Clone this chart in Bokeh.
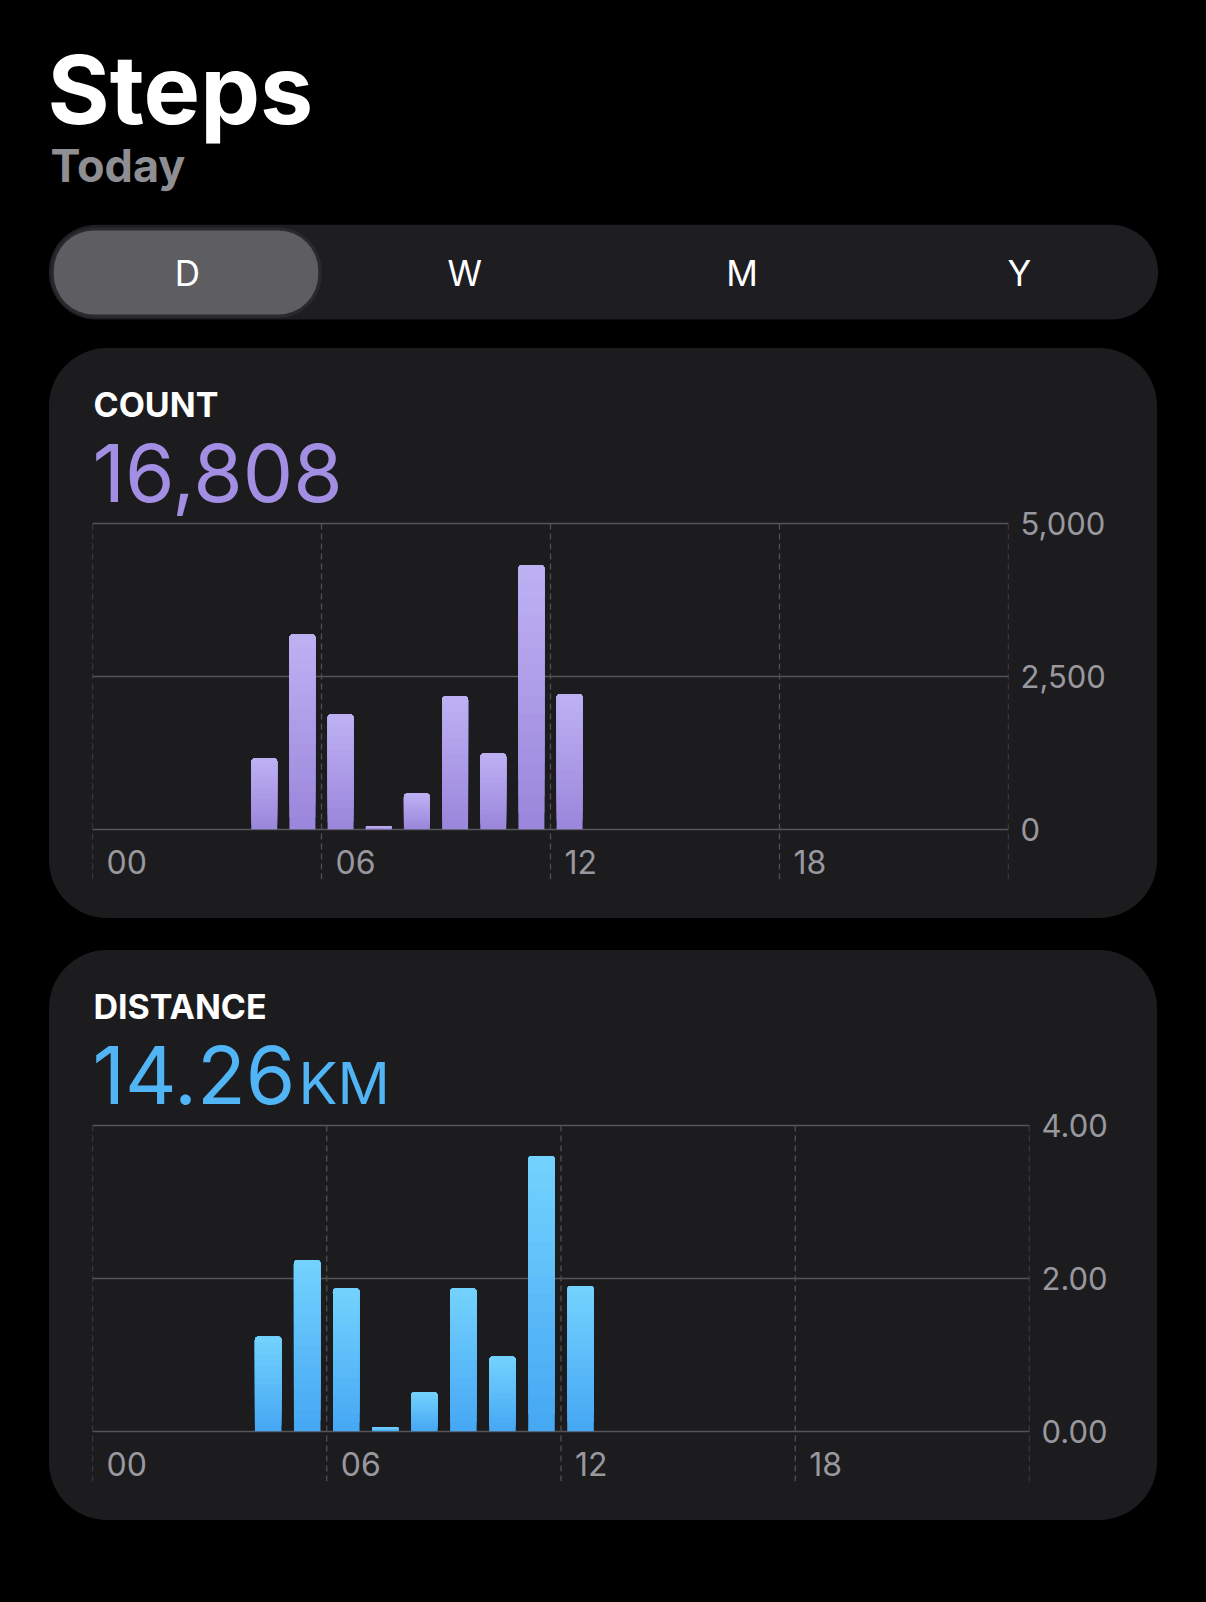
from bokeh.plotting import figure
from bokeh.models import Range1d, FixedTicker, NumeralTickFormatter, GlobalInlineStyleSheet
from bokeh.layouts import column
from bokeh.core.properties import value
from bokeh.embed import file_html
from bokeh.resources import INLINE

# ---------------- data ----------------
title_text = "Steps"
subtitle_text = "Today"
periods = ["D", "W", "M", "Y"]
selected_period = "D"

bar_hours = [4, 5, 6, 7, 8, 9, 10, 11, 12]
step_counts = [1160, 3190, 1880, 45, 585, 2175, 1240, 4320, 2213]
distance_km = [1.24, 2.24, 1.87, 0.05, 0.51, 1.87, 0.98, 3.60, 1.90]

hour_ticks = [0, 6, 12, 18, 24]
hour_labels = ["00", "06", "12", "18"]
count_ticks = [0, 2500, 5000]
distance_ticks = [0, 2, 4]

# ---------------- styles / layout ----------------
FONT = "Inter"
MID = 0.3635            # cap-centre above baseline, in em (Inter)
BG = "#000000"
CARD = "#1C1C1E"
GRID = "#55555A"
DASH = "#505054"
MUTED = "#98989E"
PURPLE = "#A28FE3"
PURPLE_TOP, PURPLE_BOT = "#BDB0F2", "#9B87DC"
BLUE = "#50B4F5"
BLUE_TOP, BLUE_BOT = "#72D1FD", "#47A8F4"

PAGE_W = 1206
HEADER_H = 348
CARD_W, CARD_H = 1108, 570
CARD_LEFT = 49
CARD_GAP = 32
PAD_LEFT = 43
PAD_BOTTOM = 39
TOP_PX = 175.0          # card top -> highest gridline
PLOT_PX = 305.8         # highest gridline -> zero line
LABEL_DROP = 33.0       # zero line -> centre of hour labels
NAME_BASE = 68.8        # card top -> baseline of the card name
TOTAL_BASE = 154.0      # card top -> baseline of the total
NAME_FS, TOTAL_FS, UNIT_FS = 34, 80, 58
N_SHADES = 16


def hex2rgb(h):
    h = h.lstrip("#")
    return tuple(int(h[i:i + 2], 16) for i in (0, 2, 4))


def mix(c0, c1, t):
    a, b = hex2rgb(c0), hex2rgb(c1)
    return "#%02x%02x%02x" % tuple(round(a[i] + (b[i] - a[i]) * t) for i in range(3))


def make_card(name, total_text, unit_text, unit_offset, accent, values, ticks, fmt,
              col_top, col_bot, right_px, margin_top):
    ymax = ticks[-1]
    ppu = PLOT_PX / ymax
    frame_h = CARD_H - PAD_BOTTOM
    y_end = ymax + TOP_PX / ppu
    y_start = -(frame_h - TOP_PX - PLOT_PX) / ppu

    def y_at(px_from_top):
        return y_end - px_from_top / ppu

    p = figure(width=CARD_W, height=CARD_H,
               x_range=Range1d(0, 24), y_range=Range1d(y_start, y_end),
               x_axis_type=None, y_axis_location="right",
               toolbar_location=None, output_backend="svg",
               min_border_left=PAD_LEFT, min_border_right=right_px,
               min_border_top=0, min_border_bottom=PAD_BOTTOM,
               background_fill_color=None, border_fill_color=None,
               outline_line_color=None, frame_align=False,
               margin=(margin_top, 0, 0, CARD_LEFT),
               styles={"border-radius": "58px", "overflow": "hidden",
                       "background-color": CARD})

    # right axis
    ax = p.yaxis[0]
    ax.ticker = FixedTicker(ticks=ticks)
    ax.formatter = NumeralTickFormatter(format=fmt)
    ax.axis_line_color = None
    ax.major_tick_line_color = None
    ax.minor_tick_line_color = None
    ax.major_tick_out = 0
    ax.major_tick_in = 0
    ax.major_label_standoff = 12
    ax.major_label_text_font = FONT
    ax.major_label_text_font_size = "31px"
    ax.major_label_text_color = MUTED

    p.ygrid.ticker = FixedTicker(ticks=ticks)
    p.ygrid.grid_line_color = GRID
    p.ygrid.grid_line_width = 1.3

    # dashed hour lines from the top gridline down through the label band
    p.segment(x0=hour_ticks, x1=hour_ticks,
              y0=[ymax] * len(hour_ticks), y1=[y_start] * len(hour_ticks),
              line_color=DASH, line_width=1.3, line_dash="6 4")

    # bars with a vertical gradient (stacked shades)
    xs = [h + 0.5 for h in bar_hours]
    for k in range(N_SHADES):
        f = k / N_SHADES
        p.vbar(x=xs, width=0.68, top=values, bottom=[v * f for v in values],
               fill_color=mix(col_bot, col_top, k / (N_SHADES - 1)), line_color=None,
               border_radius=(4, 4, 0, 0))

    # hour labels
    p.text(x=hour_ticks[:len(hour_labels)], y=[-LABEL_DROP / ppu] * len(hour_labels),
           text=hour_labels, x_offset=14, text_align="left", text_baseline="middle",
           text_font=value(FONT), text_font_size="32px", text_color=MUTED)

    # headings
    p.text(x=[0], y=[y_at(NAME_BASE - MID * NAME_FS)], text=[name], x_offset=1,
           text_align="left", text_baseline="middle",
           text_font=value(FONT), text_font_size=f"{NAME_FS}px", text_font_style="bold",
           text_color="#FFFFFF")
    p.text(x=[0], y=[y_at(TOTAL_BASE - MID * TOTAL_FS)], text=[total_text], x_offset=0,
           text_align="left", text_baseline="middle",
           text_font=value(FONT), text_font_size=f"{TOTAL_FS}px", text_color=accent)
    if unit_text:
        p.text(x=[0], y=[y_at(TOTAL_BASE - MID * UNIT_FS)], text=[unit_text], x_offset=unit_offset,
               text_align="left", text_baseline="middle",
               text_font=value(FONT), text_font_size=f"{UNIT_FS}px", text_color=accent)
    return p


# ---------------- header ----------------
hdr = figure(width=PAGE_W, height=HEADER_H,
             x_range=Range1d(0, PAGE_W), y_range=Range1d(HEADER_H, 0),
             x_axis_type=None, y_axis_type=None,
             toolbar_location=None, output_backend="svg",
             min_border_left=0, min_border_right=0, min_border_top=0, min_border_bottom=0,
             background_fill_color=BG, border_fill_color=BG, outline_line_color=None,
             frame_align=False)

hdr.text(x=[47], y=[123.3 - MID * 95], text=[title_text], text_font=value(FONT),
         text_font_size="95px", text_font_style="bold", text_color="#FFFFFF",
         text_baseline="middle")
hdr.text(x=[50], y=[181.7 - MID * 45], text=[subtitle_text], text_font=value(FONT),
         text_font_size="45px", text_font_style="bold", text_color="#8E8E93",
         text_baseline="middle")

seg_l, seg_r, seg_t, seg_b = 48.3, 1157.5, 224.3, 319.0
hdr.quad(left=[seg_l], right=[seg_r], top=[seg_t], bottom=[seg_b],
         fill_color="#1E1D21", line_color=None, border_radius=47)
seg_w = (seg_r - seg_l) / len(periods)
sel = periods.index(selected_period)
pill_l = seg_l + sel * seg_w
hdr.quad(left=[pill_l + 2], right=[pill_l + 273], top=[seg_t + 2.5], bottom=[seg_b - 1.5],
         fill_color="#2A292D", line_color=None, border_radius=44)
hdr.quad(left=[pill_l + 5], right=[pill_l + 269.5], top=[seg_t + 5.7], bottom=[seg_b - 5],
         fill_color="#5E5D62", line_color=None, border_radius=40)
hdr.text(x=[seg_l + seg_w * (i + 0.5) for i in range(len(periods))], y=[272.8] * len(periods),
         text=periods, text_align="center", text_baseline="middle",
         text_font=value(FONT), text_font_size="35px", text_color="#FFFFFF")

# ---------------- cards ----------------
count_card = make_card("COUNT", f"{sum(step_counts):,}", "", 0, PURPLE, step_counts,
                       count_ticks, "0,0", PURPLE_TOP, PURPLE_BOT, 149, 0)
dist_card = make_card("DISTANCE", f"{sum(distance_km):.2f}", "KM", 206, BLUE, distance_km,
                      distance_ticks, "0.00", BLUE_TOP, BLUE_BOT, 128, CARD_GAP)

page = column(hdr, count_card, dist_card, spacing=0,
              stylesheets=[GlobalInlineStyleSheet(
                  css="html, body { background: #000000; margin: 0; padding: 0; }")])

open("out.html", "w").write(file_html(page, INLINE))
